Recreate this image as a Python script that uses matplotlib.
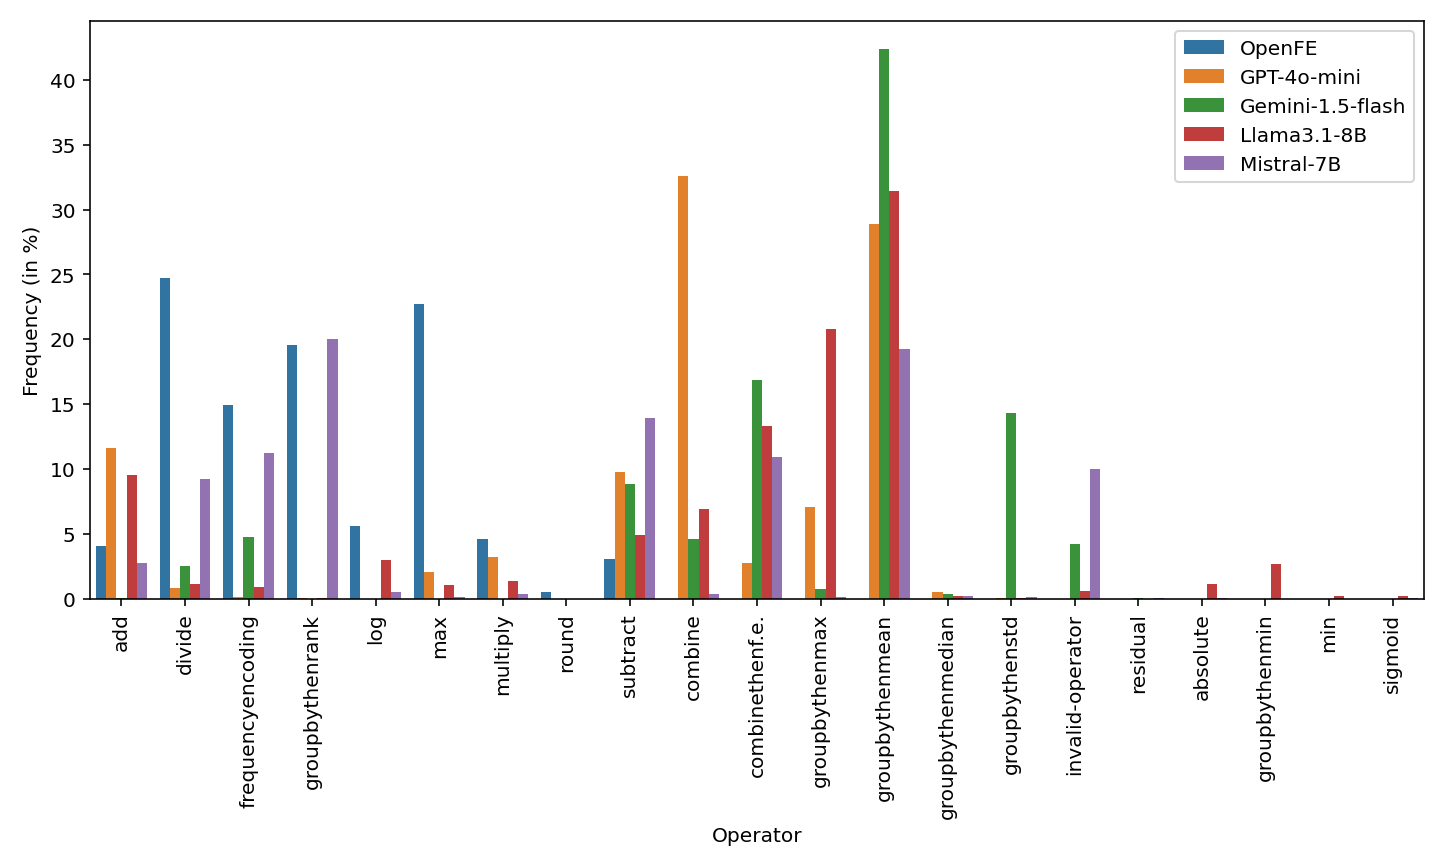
import matplotlib
matplotlib.use("Agg")
import matplotlib.pyplot as plt
import seaborn as sns
import pandas as pd
import numpy as np

operators = ["add", "divide", "frequencyencoding", "groupbythenrank", "log", "max",
             "multiply", "round", "subtract", "combine", "combinethenf.e.",
             "groupbythenmax", "groupbythenmean", "groupbythenmedian", "groupbythenstd",
             "invalid-operator", "residual", "absolute", "groupbythenmin", "min", "sigmoid"]
models = ["OpenFE", "GPT-4o-mini", "Gemini-1.5-flash", "Llama3.1-8B", "Mistral-7B"]

openfe = [4.1, 24.7, 14.95, 19.6, 5.65, 22.7, 4.6, 0.5, 3.1, 0, 0, 0, 0, 0, 0, 0, 0, 0, 0, 0, 0]
gpt = [11.65, 0.85, 0.15, 0.05, 0, 2.1, 3.2, 0, 9.8, 32.6, 2.8, 7.1, 28.9, 0.5, 0.05, 0, 0, 0, 0, 0, 0]
gemini = [0.05, 2.5, 4.8, 0, 0, 0, 0, 0, 8.85, 4.6, 16.9, 0.8, 42.4, 0.4, 14.3, 4.2, 0.05, 0, 0, 0, 0]
llama = [9.55, 1.15, 0.95, 0.1, 3.0, 1.05, 1.4, 0, 4.95, 6.95, 13.3, 20.8, 31.4, 0.2, 0.05, 0.6, 0, 1.15, 2.7, 0.2, 0.2]
mistral = [2.8, 9.25, 11.25, 20.0, 0.5, 0.15, 0.4, 0, 13.95, 0.4, 10.9, 0.15, 19.25, 0.2, 0.15, 10.0, 0.05, 0.05, 0, 0, 0.05]

rows = []
for name, vals in zip(models, [openfe, gpt, gemini, llama, mistral]):
    for op, v in zip(operators, vals):
        rows.append({"Operator": op, "Model": name, "Frequency": v})
df = pd.DataFrame(rows)

fig = plt.figure(figsize=(10, 6), dpi=144.6)
ax = fig.add_axes([0.062, 0.309, 0.923, 0.666])
sns.barplot(data=df, x="Operator", y="Frequency", hue="Model", order=operators,
            hue_order=models, ax=ax, saturation=0.75)
ax.set_ylabel("Frequency (in %)")
ax.set_xlabel("Operator")
plt.xticks(rotation=90)
ax.legend(loc="upper right", fontsize=10, title=None)
plt.savefig("out.png", dpi=144.6)
